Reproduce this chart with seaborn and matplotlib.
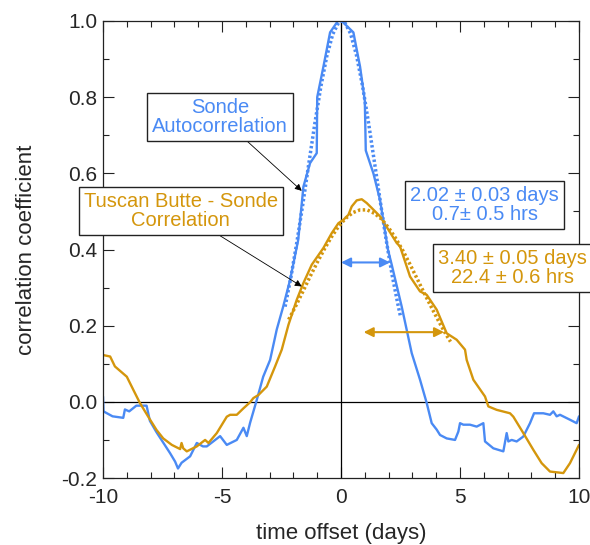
import numpy as np
import pandas as pd
import matplotlib
matplotlib.use('Agg')
import matplotlib.pyplot as plt
import seaborn as sns
from matplotlib.ticker import MultipleLocator

# sonde autocorrelation (solid)
blue_x = [-10, -9.98, -9.6, -9.15, -9.08, -8.9, -8.6, -8.17, -8.03, -7.75,
          -7.18, -6.97, -6.85, -6.7, -6.34, -6.06, -5.8, -5.64, -5.08, -4.8,
          -4.38, -4.1, -3.96, -3.82, -3.54, -3.27, -2.98, -2.7, -2.43, -2.14,
          -1.8, -1.58, -1.3, -1.02, -1.0, -0.74, -0.46, -0.13, 0.03, 0.52,
          0.8, 1.0, 1.04, 1.36, 1.64, 1.97, 2.13, 2.55, 2.97, 3.32,
          3.6, 3.81, 4.02, 4.16, 4.44, 4.79, 4.93, 5.0, 5.14, 5.42,
          5.7, 5.98, 6.05, 6.4, 6.82, 6.96, 7.03, 7.17, 7.38, 7.66,
          7.94, 8.11, 8.5, 8.78, 8.92, 9.06, 9.2, 9.62, 9.9, 10]
blue_y = [0.014, -0.025, -0.038, -0.042, -0.02, -0.025, -0.01, -0.01, -0.05, -0.08,
          -0.135, -0.157, -0.175, -0.16, -0.143, -0.108, -0.117, -0.117, -0.09, -0.113,
          -0.1, -0.068, -0.09, -0.055, 0.005, 0.066, 0.11, 0.19, 0.25, 0.32,
          0.425, 0.565, 0.627, 0.653, 0.80, 0.88, 0.97, 1.0, 1.0, 0.97,
          0.88, 0.79, 0.66, 0.6, 0.53, 0.40, 0.36, 0.25, 0.128, 0.058,
          -0.003, -0.056, -0.073, -0.087, -0.096, -0.1, -0.078, -0.056, -0.06, -0.06,
          -0.065, -0.056, -0.104, -0.122, -0.13, -0.082, -0.104, -0.1, -0.104, -0.091,
          -0.056, -0.03, -0.03, -0.034, -0.025, -0.038, -0.034, -0.047, -0.056, -0.038]

# tuscan butte - sonde correlation (solid)
orange_x = [-10, -9.7, -9.5, -9.0, -8.73, -8.45, -8.1, -7.75, -7.47, -7.11,
            -6.76, -6.7, -6.63, -6.48, -6.06, -5.71, -5.57, -5.22, -4.8, -4.66,
            -4.38, -4.1, -3.82, -3.68, -3.47, -3.12, -2.77, -2.49, -2.21, -1.86,
            -1.58, -1.23, -0.74, -0.39, -0.11, 0.1, 0.31, 0.45, 0.66, 0.87,
            1.08, 1.29, 1.64, 1.99, 2.34, 2.48, 2.9, 3.32, 3.6, 4.02,
            4.44, 4.86, 5.21, 5.28, 5.56, 6.05, 6.19, 6.54, 7.1, 7.24,
            7.66, 8.08, 8.43, 8.78, 9.34, 9.62, 10]
orange_y = [0.123, 0.119, 0.093, 0.066, 0.032, -0.003, -0.039, -0.074, -0.096, -0.113,
            -0.124, -0.108, -0.122, -0.13, -0.117, -0.1, -0.108, -0.082, -0.039, -0.034,
            -0.034, -0.017, -0.001, 0.01, 0.018, 0.04, 0.093, 0.137, 0.202, 0.268,
            0.312, 0.36, 0.404, 0.443, 0.469, 0.478, 0.491, 0.513, 0.529, 0.532,
            0.522, 0.509, 0.487, 0.452, 0.417, 0.408, 0.329, 0.29, 0.281, 0.242,
            0.18, 0.163, 0.137, 0.11, 0.058, 0.014, -0.012, -0.021, -0.03, -0.039,
            -0.082, -0.126, -0.161, -0.183, -0.187, -0.161, -0.113]

# dotted fits
blue_fit_x = [-2.35, -2.1, -1.85, -1.6, -1.35, -1.1, -0.85, -0.6, -0.35, -0.1, 0.03,
              0.15, 0.4, 0.65, 0.9, 1.15, 1.4, 1.65, 1.9, 2.15, 2.4, 2.5]
blue_fit_y = [0.25, 0.329, 0.421, 0.521, 0.627, 0.731, 0.827, 0.907, 0.965, 0.996, 1.0,
              0.997, 0.967, 0.910, 0.831, 0.735, 0.631, 0.526, 0.424, 0.332, 0.253, 0.224]
orange_fit_x = [-2.2, -1.9, -1.6, -1.3, -1.0, -0.7, -0.4, -0.1, 0.2, 0.5, 0.8, 1.1,
                1.4, 1.7, 2.0, 2.3, 2.6, 2.9, 3.2, 3.5, 3.8, 4.1, 4.4, 4.6]
orange_fit_y = [0.216, 0.252, 0.290, 0.329, 0.366, 0.401, 0.433, 0.461, 0.482, 0.497, 0.504, 0.504,
                0.495, 0.480, 0.457, 0.429, 0.397, 0.361, 0.323, 0.285, 0.248, 0.212, 0.178, 0.158]

# widths (1/e half width) and centres
blue_width = (0.0, 2.06, 0.366)
orange_width = (0.95, 4.33, 0.183)

BLUE = '#4a8af4'
ORANGE = '#d4960c'

sns.set_style('ticks')
plt.rcParams['font.family'] = ['Liberation Sans', 'DejaVu Sans']
plt.rcParams['axes.unicode_minus'] = False

fig = plt.figure(figsize=(5.9, 5.45), dpi=100)
ax = fig.add_axes([0.1746, 0.1229, 0.8068, 0.8386])

ax.axhline(0, color='black', lw=0.9, zorder=1)
ax.axvline(0, color='black', lw=0.9, zorder=1)

sns.lineplot(x=blue_x, y=blue_y, ax=ax, color=BLUE, lw=1.7, sort=False, estimator=None)
sns.lineplot(x=orange_x, y=orange_y, ax=ax, color=ORANGE, lw=1.7, sort=False, estimator=None)
sns.lineplot(x=blue_fit_x, y=blue_fit_y, ax=ax, color=BLUE, lw=2.5, sort=False,
             estimator=None, linestyle=(0, (0.7, 0.7)))
sns.lineplot(x=orange_fit_x, y=orange_fit_y, ax=ax, color=ORANGE, lw=2.5, sort=False,
             estimator=None, linestyle=(0, (0.7, 0.7)))

ax.set_xlim(-10, 10)
ax.set_ylim(-0.2, 1.0)
ax.xaxis.set_major_locator(MultipleLocator(5))
ax.xaxis.set_minor_locator(MultipleLocator(1))
ax.yaxis.set_major_locator(MultipleLocator(0.2))
ax.yaxis.set_minor_locator(MultipleLocator(0.1))
ax.yaxis.set_major_formatter(matplotlib.ticker.FormatStrFormatter('%.1f'))
ax.tick_params(which='both', direction='in', top=True, right=True, width=0.8, color='#222222')
ax.tick_params(which='major', length=8, labelsize=15, pad=4)
ax.tick_params(axis='x', which='major', pad=7)
ax.tick_params(which='minor', length=4)
for s in ax.spines.values():
    s.set_linewidth(0.9)
    s.set_color('#222222')

ax.set_xlabel('time offset (days)', fontsize=16, labelpad=12)
ax.set_ylabel('correlation coefficient', fontsize=16, labelpad=18)

# width arrows
ax.annotate('', xy=(blue_width[1], blue_width[2]), xytext=(blue_width[0], blue_width[2]),
            arrowprops=dict(arrowstyle='<|-|>', color=BLUE, lw=1.5, mutation_scale=14,
                            shrinkA=0, shrinkB=0))
ax.annotate('', xy=(orange_width[1], orange_width[2]), xytext=(orange_width[0], orange_width[2]),
            arrowprops=dict(arrowstyle='<|-|>', color=ORANGE, lw=1.5, mutation_scale=14,
                            shrinkA=0, shrinkB=0))

box = dict(boxstyle='square,pad=0.25', fc='white', ec='#222222', lw=1.0)
arr = dict(arrowstyle='-|>', color='black', lw=0.6, mutation_scale=10, shrinkA=0, shrinkB=0)

ax.annotate('Sonde\nAutocorrelation', xy=(-1.65, 0.554), xytext=(-5.08, 0.749),
            ha='center', va='center', fontsize=14.5, color=BLUE, linespacing=1.0,
            bbox=box, arrowprops=arr)
ax.annotate('Tuscan Butte - Sonde\nCorrelation', xy=(-1.65, 0.303), xytext=(-6.73, 0.50),
            ha='center', va='center', fontsize=14.5, color=ORANGE, linespacing=1.0,
            bbox=box, arrowprops=arr)
ax.text(6.03, 0.517, '2.02 \u00b1 0.03 days\n0.7\u00b1 0.5 hrs', ha='center', va='center',
        fontsize=14.5, color=BLUE, linespacing=1.0, bbox=box)
ax.text(7.21, 0.352, '3.40 \u00b1 0.05 days\n22.4 \u00b1 0.6 hrs', ha='center', va='center',
        fontsize=14.5, color=ORANGE, linespacing=1.0, bbox=box, clip_on=False)

fig.savefig('out.png', dpi=100)
